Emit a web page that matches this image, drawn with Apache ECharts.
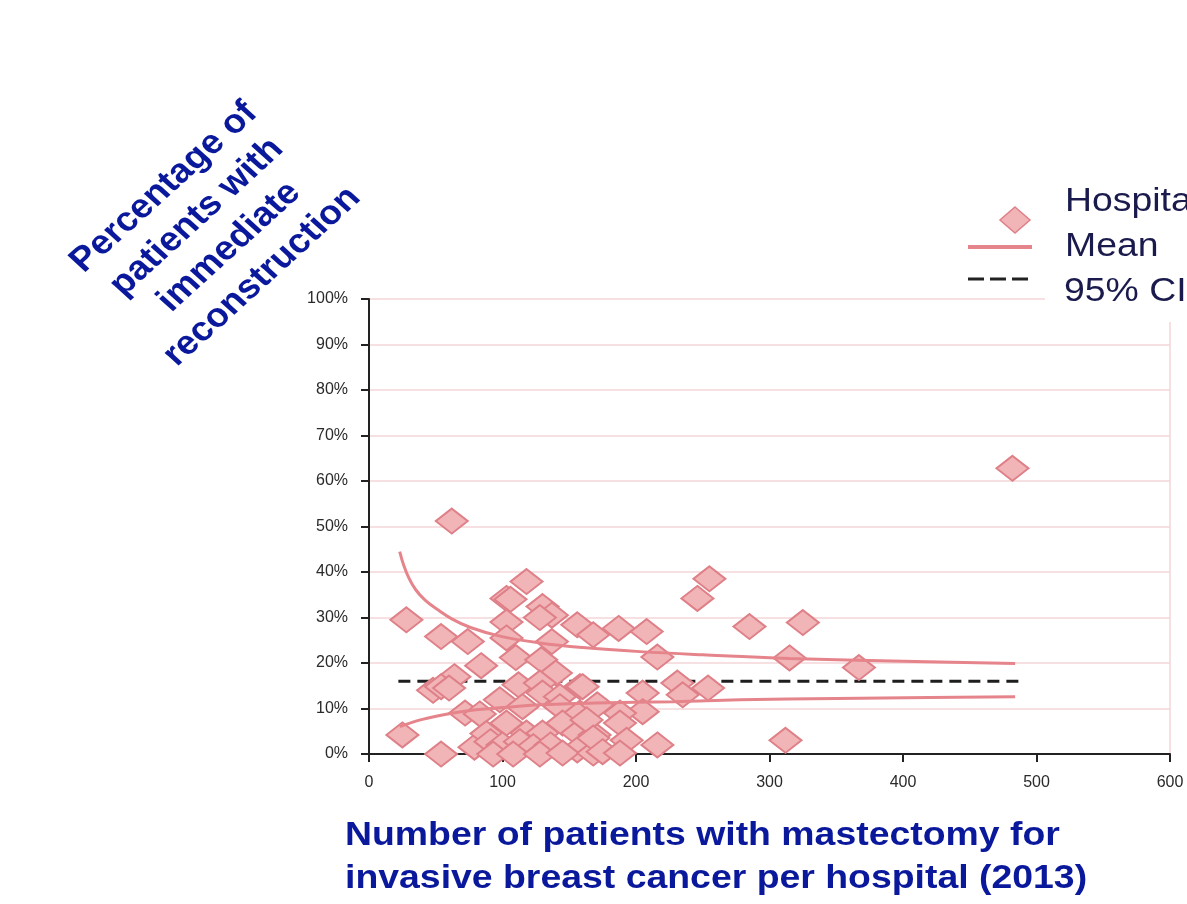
<!DOCTYPE html>
<html>
<head>
<meta charset="utf-8">
<title>Immediate reconstruction by hospital volume</title>
<script src="https://cdn.jsdelivr.net/npm/echarts@6/dist/echarts.min.js"></script>
<style>
  html, body { margin: 0; padding: 0; background: #ffffff; }
  #chart { width: 1187px; height: 904px; }
</style>
</head>
<body>
<div id="chart"></div>
<script>
// Hospitals: [number of mastectomies for invasive breast cancer, % with immediate reconstruction]
const hospitals = [
  [25, 4.2], [28, 29.5], [62, 51.2], [54, 25.8], [74, 24.7], [84, 19.4], [64, 17.0],
  [48, 14.0], [54, 14.8], [60, 14.5], [72, 9.0], [83, 8.8], [54, 0.0], [79, 1.5], [88, 4.5],
  [118, 37.9], [103, 34.2], [106, 34.0], [130, 32.4], [137, 30.5], [128, 30.0], [103, 29.0],
  [103, 25.5], [137, 24.7], [110, 21.2], [129, 20.7], [140, 17.8], [156, 28.4], [168, 26.2],
  [187, 27.6], [208, 26.9], [216, 21.3],
  [112, 15.2], [128, 15.6], [158, 14.8], [98, 11.9], [115, 10.4], [130, 13.4], [143, 12.6],
  [143, 10.4], [158, 9.0], [171, 10.8], [103, 6.8], [118, 4.6], [130, 4.6], [145, 6.8],
  [156, 4.6], [169, 4.2], [91, 2.7], [100, 2.0], [113, 2.7], [123, 1.6], [136, 2.0],
  [156, 0.9], [93, 0.0], [108, 0.0], [128, 0.0], [145, 0.2], [168, 0.2],
  [160, 14.8], [205, 13.4], [205, 9.3], [188, 9.0], [163, 7.5], [188, 6.8], [168, 3.5],
  [193, 3.0], [216, 2.0], [175, 0.5], [188, 0.2],
  [231, 15.6], [235, 13.0], [254, 14.5], [246, 34.2], [255, 38.5], [285, 28.0],
  [325, 28.9], [315, 21.1], [312, 3.0], [367, 19.0], [482, 62.8]
];

// Funnel limits
const upperLimit = [
  [23, 44.5], [26, 41.5], [30, 38.6], [35, 36.1], [42, 33.8], [51, 31.8], [62, 29.7],
  [76, 27.8], [98, 25.9], [128, 24.4], [160, 23.4], [203, 22.5], [250, 21.8],
  [315, 21.0], [400, 20.4], [484, 19.9]
];
const lowerLimit = [
  [23, 6.0], [40, 7.6], [61, 8.9], [80, 9.7], [100, 10.2], [128, 10.8],
  [170, 11.2], [228, 11.5], [278, 11.9], [350, 12.2], [420, 12.4], [484, 12.6]
];
const overallMean = [[22, 16.0], [487, 16.0]];

const legendLabels = ['Hospital', 'Mean', '95% CI'];
const yTitle = 'Percentage of\npatients with\nimmediate\nreconstruction';
const xTitle = 'Number of patients with mastectomy for\ninvasive breast cancer per hospital (2013)';

const pinkFill = '#f1b4b7';
const pinkEdge = '#df8088';
const pinkLine = '#e6848b';
const titleBlue = '#0a189c';
const legendInk = '#1a1a4c';
const gridPink = '#f3d6d8';
const stretch = 1.1;

const chart = echarts.init(document.getElementById('chart'), null, { renderer: 'canvas' });

chart.setOption({
  animation: false,
  backgroundColor: '#ffffff',
  grid: { left: 369, right: 17, top: 299, bottom: 150 },
  xAxis: {
    type: 'value', min: 0, max: 600, interval: 100,
    axisLine: { show: true, lineStyle: { color: '#222', width: 2 } },
    axisTick: { show: true, length: 8, lineStyle: { color: '#222', width: 2 } },
    axisLabel: { margin: 21, fontSize: 16, color: '#2a2a2a', fontFamily: 'Liberation Sans' },
    splitLine: { show: false }
  },
  yAxis: [{
    type: 'value', min: 0, max: 100, interval: 10,
    axisLine: { show: true, lineStyle: { color: '#222', width: 2 } },
    axisTick: { show: true, length: 8, lineStyle: { color: '#222', width: 2 } },
    axisLabel: { margin: 21, fontSize: 16, color: '#2a2a2a', fontFamily: 'Liberation Sans',
      formatter: v => v + '%' },
    splitLine: { show: true, lineStyle: { color: gridPink, width: 1.5 } }
  }, {
    type: 'value', min: 0, max: 100, position: 'right',
    axisLine: { show: true, lineStyle: { color: gridPink, width: 1.5 } },
    axisTick: { show: false }, axisLabel: { show: false }, splitLine: { show: false }
  }],
  series: [
    {
      name: 'Mean', type: 'line', data: overallMean, showSymbol: false, z: 2,
      lineStyle: { color: '#1e1e1e', width: 3, type: [12, 7] }
    },
    {
      name: 'Hospital', type: 'scatter', data: hospitals, z: 3,
      symbol: 'diamond', symbolSize: [32, 25],
      itemStyle: { color: pinkFill, borderColor: pinkEdge, borderWidth: 2, opacity: 1 }
    },
    {
      name: '95% CI upper', type: 'line', data: upperLimit, smooth: 0.4, showSymbol: false, z: 4,
      lineStyle: { color: pinkLine, width: 3 }
    },
    {
      name: '95% CI lower', type: 'line', data: lowerLimit, smooth: 0.4, showSymbol: false, z: 4,
      lineStyle: { color: pinkLine, width: 3 }
    }
  ],
  graphic: [
    // legend panel
    { type: 'rect', z: 100, shape: { x: 1045, y: 180, width: 142, height: 142 },
      style: { fill: '#ffffff' } },
    { type: 'polygon', z: 101,
      shape: { points: [[1015, 207], [1030, 220], [1015, 233], [1000, 220]] },
      style: { fill: pinkFill, stroke: pinkEdge, lineWidth: 1.5 } },
    { type: 'line', z: 101, shape: { x1: 968, y1: 247, x2: 1032, y2: 247 },
      style: { stroke: pinkLine, lineWidth: 4 } },
    { type: 'line', z: 101, shape: { x1: 968, y1: 279, x2: 1028, y2: 279 },
      style: { stroke: '#222', lineWidth: 3, lineDash: [16, 6] } },
    { type: 'text', z: 102, x: 1065, y: 202, scaleX: stretch,
      style: { text: legendLabels[0], fontSize: 34, fontFamily: 'Liberation Sans',
        fill: legendInk, textVerticalAlign: 'middle' } },
    { type: 'text', z: 102, x: 1065, y: 247, scaleX: stretch,
      style: { text: legendLabels[1], fontSize: 34, fontFamily: 'Liberation Sans',
        fill: legendInk, textVerticalAlign: 'middle' } },
    { type: 'text', z: 102, x: 1064, y: 292, scaleX: stretch,
      style: { text: legendLabels[2], fontSize: 34, fontFamily: 'Liberation Sans',
        fill: legendInk, textVerticalAlign: 'middle' } },
    // axis titles
    { type: 'group', z: 102, x: 213, y: 232, scaleX: stretch,
      children: [{
        type: 'text', rotation: Math.PI / 4,
        style: { text: yTitle, fontSize: 34, fontWeight: 'bold', lineHeight: 42,
          fontFamily: 'Liberation Sans', fill: titleBlue,
          textAlign: 'center', textVerticalAlign: 'middle' }
      }]
    },
    { type: 'text', z: 102, x: 345, y: 857, scaleX: stretch,
      style: { text: xTitle, fontSize: 34, fontWeight: 'bold', lineHeight: 43,
        fontFamily: 'Liberation Sans', fill: titleBlue,
        textAlign: 'left', textVerticalAlign: 'middle' } }
  ]
});
</script>
</body>
</html>
